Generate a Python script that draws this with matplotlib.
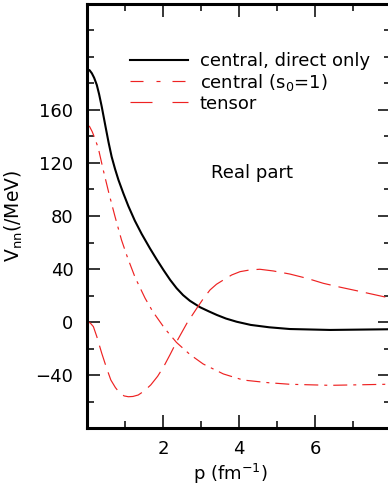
import matplotlib
matplotlib.use("Agg")
import matplotlib.pyplot as plt
from matplotlib.ticker import MultipleLocator
from matplotlib.lines import Line2D

plt.rcParams['font.family'] = ['DejaVu Sans']
plt.rcParams['mathtext.fontset'] = 'dejavusans'

# central, direct only (black solid)
p_central = [0.0, 0.06, 0.12, 0.18, 0.25, 0.31, 0.38, 0.48, 0.56, 0.64, 0.73, 0.82, 0.95, 1.08,
             1.25, 1.43, 1.65, 1.82, 2.01, 2.18, 2.35, 2.52, 2.70, 2.97, 3.20, 3.41, 3.65, 3.93,
             4.30, 4.79, 5.33, 6.39, 7.88, 8.0]
v_central = [190.7, 190.0, 187.7, 184.3, 178.9, 172.0, 162.5, 147.4, 135.5, 124.8, 115.5, 107.2, 97.0, 87.5,
             76.5, 66.5, 55.5, 47.5, 39.0, 31.8, 25.5, 20.3, 16.0, 11.1, 8.0, 5.3, 2.6, 0.2,
             -2.2, -4.0, -5.3, -6.0, -5.5, -5.4]

# central (s0=1) (red dash-dot)
p_s0 = [0.0, 0.06, 0.13, 0.20, 0.29, 0.42, 0.57, 0.73, 0.90, 1.06, 1.26, 1.52, 1.72, 2.04,
        2.35, 2.70, 3.05, 3.58, 4.10, 4.76, 5.33, 6.39, 7.88, 8.0]
v_s0 = [148.7, 147.5, 143.6, 138.5, 131.1, 114.7, 97.0, 79.5, 61.9, 48.5, 33.5, 18.0, 8.0, -5.0,
        -15.5, -24.5, -31.7, -39.2, -43.8, -45.8, -47.0, -47.8, -47.0, -47.0]

# tensor (red long dash)
p_tensor = [0.0, 0.08, 0.16, 0.25, 0.38, 0.51, 0.62, 0.74, 0.86, 0.97, 1.08, 1.20, 1.34, 1.50,
            1.67, 1.85, 2.01, 2.18, 2.35, 2.62, 2.88, 3.05, 3.23, 3.40, 3.58, 3.80, 4.02, 4.28,
            4.54, 4.90, 5.33, 5.80, 6.21, 6.65, 7.09, 7.50, 7.88, 8.0]
v_tensor = [0.2, -0.8, -3.5, -11.0, -23.6, -35.0, -43.8, -49.5, -53.8, -55.8, -56.4, -56.2, -55.1, -52.0,
            -47.5, -41.0, -33.7, -24.5, -14.9, -1.0, 10.3, 17.5, 24.2, 28.5, 31.7, 35.5, 38.0, 39.3,
            39.8, 38.5, 36.2, 32.8, 29.2, 26.3, 23.6, 21.0, 18.6, 18.0]

labels = ['central, direct only', 'central (s$_0$=1)', 'tensor']
x_ticks = [2, 4, 6]
y_ticks = [-40, 0, 40, 80, 120, 160]

PX = 0.72  # points per pixel at 100 dpi
red = '#ee2222'
lw_red = 0.85

fig = plt.figure(figsize=(3.88, 4.88), dpi=100)
ax = fig.add_axes([87.3 / 388, 60 / 488, 304 / 388, 424 / 488])

ax.plot(p_central, v_central, color='black', lw=1.5)
ax.plot(p_s0, v_s0, color=red, lw=lw_red,
        dashes=[v * PX / lw_red for v in (14, 6, 3, 6)])
ax.plot(p_tensor, v_tensor, color=red, lw=lw_red,
        dashes=[v * PX / lw_red for v in (20, 8)])

ax.set_xlim(0, 8)
ax.set_ylim(-80, 240)
ax.set_xticks(x_ticks)
ax.set_yticks(y_ticks)
ax.xaxis.set_minor_locator(MultipleLocator(1))
ax.yaxis.set_minor_locator(MultipleLocator(20))
ax.tick_params(which='both', direction='in', top=True, right=True, width=1.1, labelsize=13)
ax.tick_params(which='major', length=9.4)
ax.tick_params(which='minor', length=5)
ax.tick_params(axis='y', pad=10)
ax.tick_params(axis='x', pad=9)
for s in ax.spines.values():
    s.set_linewidth(2.2)

ax.set_xlabel('p (fm$^{-1}$)', fontsize=13)
ax.xaxis.set_label_coords((230.5 - 87.3) / 304, -0.079)
ax.set_ylabel('V$_{\\rm nn}$(/MeV)', fontsize=13.5)
ax.yaxis.set_label_coords(-(87.3 - 25) / 304, 0.5)

ax.text(4.33, 112.5, 'Real part', fontsize=13, ha='center', va='center')

handles = [
    Line2D([], [], color='black', lw=1.5),
    Line2D([], [], color=red, lw=lw_red, dashes=[v * PX / lw_red for v in (13, 13, 4, 12)]),
    Line2D([], [], color=red, lw=lw_red, dashes=[v * PX / lw_red for v in (22, 20)]),
]
leg = ax.legend(handles, labels, loc='upper left', bbox_to_anchor=(130 / 388, 1 - 52 / 488),
                bbox_transform=fig.transFigure, frameon=False, fontsize=13,
                handlelength=3.2, handletextpad=0.67, labelspacing=0.1,
                borderpad=0, borderaxespad=0)

fig.savefig('out.png', dpi=100)
